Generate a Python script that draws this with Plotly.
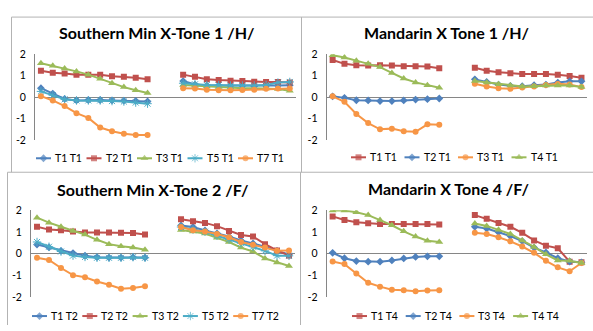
import plotly.graph_objects as go

W, H = 593, 331

BLUE = "#4F81BD"
RED = "#C0504D"
GREEN = "#9BBB59"
AQUA = "#4BACC6"
ORANGE = "#F79646"
AXIS_GREY = "#868686"
FRAME_GREY = "#B3B3B3"
FONT = "Lato"

# Ten time points before the gap, two empty slots, ten time points after
n_pts = 10
n_gap = 2

# Southern Min X-Tone 1 /H/
smh_T1 = [0.42, 0.17, -0.08, -0.15, -0.13, -0.13, -0.15, -0.16, -0.17, -0.20,
          0.75, 0.59, 0.54, 0.54, 0.53, 0.53, 0.51, 0.53, 0.54, 0.56]
smh_T2 = [1.23, 1.14, 1.10, 1.05, 1.05, 1.04, 0.98, 0.95, 0.90, 0.83,
          1.05, 0.95, 0.84, 0.80, 0.77, 0.75, 0.72, 0.71, 0.71, 0.69]
smh_T3 = [1.58, 1.46, 1.34, 1.20, 1.05, 0.86, 0.65, 0.47, 0.32, 0.20,
          0.57, 0.54, 0.50, 0.47, 0.44, 0.42, 0.42, 0.41, 0.38, 0.30]
smh_T5 = [0.27, 0.09, -0.10, -0.15, -0.15, -0.15, -0.18, -0.20, -0.25, -0.30,
          0.65, 0.60, 0.57, 0.56, 0.54, 0.54, 0.54, 0.57, 0.68, 0.71]
smh_T7 = [0.05, -0.15, -0.41, -0.74, -0.96, -1.41, -1.58, -1.70, -1.76, -1.76,
          0.42, 0.41, 0.35, 0.32, 0.32, 0.33, 0.35, 0.39, 0.41, 0.41]

# Mandarin X Tone 1 /H/
mh_T1 = [1.73, 1.55, 1.49, 1.47, 1.49, 1.47, 1.44, 1.44, 1.43, 1.35,
         1.37, 1.23, 1.16, 1.11, 1.08, 1.08, 1.08, 1.04, 0.99, 0.90]
mh_T2 = [0.04, -0.03, -0.14, -0.15, -0.18, -0.18, -0.15, -0.11, -0.09, -0.06,
         0.83, 0.71, 0.59, 0.53, 0.51, 0.56, 0.59, 0.68, 0.74, 0.74]
mh_T3 = [0.04, -0.21, -0.78, -1.20, -1.49, -1.46, -1.58, -1.61, -1.26, -1.28,
         0.63, 0.50, 0.42, 0.39, 0.45, 0.50, 0.57, 0.62, 0.59, 0.47]
mh_T4 = [1.95, 1.85, 1.70, 1.55, 1.40, 1.13, 0.87, 0.69, 0.56, 0.44,
         0.75, 0.69, 0.60, 0.54, 0.50, 0.51, 0.54, 0.54, 0.54, 0.48]

# Southern Min X-Tone 2 /F/
smf_T1 = [0.42, 0.29, 0.13, 0.03, -0.09, -0.16, -0.18, -0.18, -0.16, -0.18,
          1.30, 1.23, 1.07, 0.93, 0.79, 0.61, 0.47, 0.32, 0.13, -0.04]
smf_T2 = [1.24, 1.11, 1.08, 1.02, 0.98, 0.98, 0.98, 0.96, 0.95, 0.89,
          1.59, 1.50, 1.42, 1.27, 1.05, 0.86, 0.79, 0.44, 0.15, -0.09]
smf_T3 = [1.66, 1.43, 1.24, 1.05, 0.88, 0.64, 0.44, 0.34, 0.28, 0.18,
          1.09, 1.02, 0.93, 0.73, 0.54, 0.28, 0.10, -0.22, -0.41, -0.57]
smf_T5 = [0.54, 0.32, 0.10, -0.09, -0.15, -0.19, -0.19, -0.19, -0.16, -0.19,
          1.23, 1.12, 1.01, 0.83, 0.66, 0.48, 0.32, 0.13, -0.09, -0.10]
smf_T7 = [-0.19, -0.29, -0.66, -0.99, -1.09, -1.28, -1.43, -1.62, -1.58, -1.50,
          1.23, 1.08, 1.02, 0.91, 0.76, 0.54, 0.41, 0.28, 0.13, 0.15]

# Mandarin X Tone 4 /F/
mf_T1 = [1.72, 1.55, 1.45, 1.40, 1.37, 1.37, 1.37, 1.37, 1.37, 1.34,
         1.78, 1.61, 1.42, 1.24, 0.96, 0.61, 0.37, 0.25, -0.37, -0.39]
mf_T2 = [0.04, -0.21, -0.34, -0.37, -0.37, -0.31, -0.22, -0.15, -0.12, -0.12,
         1.24, 1.16, 0.99, 0.81, 0.58, 0.28, 0.06, -0.21, -0.36, -0.40]
mf_T3 = [-0.36, -0.48, -0.91, -1.34, -1.52, -1.66, -1.69, -1.73, -1.70, -1.69,
         0.96, 0.91, 0.76, 0.57, 0.33, 0.04, -0.33, -0.63, -0.81, -0.43]
mf_T4 = [1.99, 1.99, 1.91, 1.78, 1.55, 1.31, 1.03, 0.79, 0.60, 0.54,
         1.39, 1.28, 1.10, 0.91, 0.61, 0.31, -0.03, -0.31, -0.33, -0.43]

y_ticks = [-2, -1, 0, 1, 2]
y_tick_text = ["-2", "-1", "0", "1", "2"]

# Marker style per series colour (Excel default marker cycle)
STYLE = {
    BLUE: dict(symbol="diamond", size=6, line=dict(width=0)),
    RED: dict(symbol="square", size=6, line=dict(width=0)),
    GREEN: dict(symbol="triangle-up", size=7, line=dict(width=0)),
    AQUA: dict(symbol="asterisk-open", size=7, line=dict(width=1, color=AQUA)),
    ORANGE: dict(symbol="circle", size=6, line=dict(width=0)),
}

# title, series, plot box in px (x0, x1, y_top, y_bottom), title centre, legend start/pitch/y
panels = [
    ("Southern Min X-Tone 1 /H/",
     [("T1 T1", smh_T1, BLUE), ("T2 T1", smh_T2, RED), ("T3 T1", smh_T3, GREEN),
      ("T5 T1", smh_T5, AQUA), ("T7 T1", smh_T7, ORANGE)],
     (35, 295.7, 50, 139.3), (156, 28), (36, 50.5, 158)),
    ("Mandarin X Tone 1 /H/",
     [("T1 T1", mh_T1, RED), ("T2 T1", mh_T2, BLUE), ("T3 T1", mh_T3, ORANGE),
      ("T4 T1", mh_T4, GREEN)],
     (326.7, 587.4, 50, 139.3), (446.5, 28), (351, 53.5, 157)),
    ("Southern Min X-Tone 2 /F/",
     [("T1 T2", smf_T1, BLUE), ("T2 T2", smf_T2, RED), ("T3 T2", smf_T3, GREEN),
      ("T5 T2", smf_T5, AQUA), ("T7 T2", smf_T7, ORANGE)],
     (31, 295, 212, 302), (152, 190), (32, 50.3, 321.7)),
    ("Mandarin X Tone 4 /F/",
     [("T1 T4", mf_T1, RED), ("T2 T4", mf_T2, BLUE), ("T3 T4", mf_T3, ORANGE),
      ("T4 T4", mf_T4, GREEN)],
     (326.7, 587.4, 212, 302), (448, 189), (352, 53.7, 321.7)),
]


def px_x(x):
    return x / W


def px_y(y):
    return 1 - y / H


n_cats = 2 * n_pts + n_gap
x_cats = list(range(n_cats))


def with_gap(vals):
    return vals[:n_pts] + [None] * n_gap + vals[n_pts:]


fig = go.Figure()
layout = dict(
    width=W, height=H, margin=dict(l=0, r=0, t=0, b=0),
    paper_bgcolor="white", plot_bgcolor="rgba(0,0,0,0)",
    showlegend=False, font=dict(family=FONT, color="#000000"),
)
annotations = []
shapes = []

for i, (title, series, box, tpos, leg) in enumerate(panels, start=1):
    xa, ya = f"x{i}", f"y{i}"
    x0, x1, yt, yb = box
    layout[f"xaxis{i}"] = dict(
        domain=[px_x(x0), px_x(x1)], range=[-0.5, n_cats - 0.5],
        visible=False, anchor=ya,
    )
    layout[f"yaxis{i}"] = dict(
        domain=[px_y(yb), px_y(yt)], range=[-2, 2], anchor=xa,
        tickvals=y_ticks, ticktext=y_tick_text, ticks="",
        ticklabelstandoff=6,
        tickfont=dict(family=FONT, size=10.5, color="#000000"),
        showgrid=False, showline=True, linecolor=AXIS_GREY, linewidth=1,
        zeroline=True, zerolinecolor=AXIS_GREY, zerolinewidth=1,
    )
    for name, vals, color in series:
        fig.add_trace(go.Scatter(
            x=x_cats, y=with_gap(vals), mode="lines+markers", name=name,
            line=dict(color=color, width=2), marker=dict(color=color, **STYLE[color]),
            connectgaps=False, xaxis=xa, yaxis=ya, showlegend=False,
        ))
    annotations.append(dict(
        text=f"<b>{title}</b>", x=px_x(tpos[0]), y=px_y(tpos[1]),
        xref="paper", yref="paper", xanchor="center", yanchor="middle",
        showarrow=False, font=dict(family=FONT, size=16, color="#000000"),
    ))
    # legend row: short line with centred marker, followed by the series name
    lx, pitch, ly = leg
    for k, (name, vals, color) in enumerate(series):
        sx = lx + k * pitch
        fig.add_trace(go.Scatter(
            x=[sx, sx + 7.5, sx + 15], y=[ly, ly, ly], mode="lines+markers",
            line=dict(color=color, width=2),
            marker=dict(color=color, symbol=STYLE[color]["symbol"],
                        size=[0, STYLE[color]["size"], 0], line=STYLE[color]["line"]),
            xaxis="x5", yaxis="y5", showlegend=False, hoverinfo="skip",
        ))
        annotations.append(dict(
            text=name, x=px_x(sx + 17), y=px_y(ly), xref="paper", yref="paper",
            xanchor="left", yanchor="middle", showarrow=False,
            font=dict(family=FONT, size=10.5, color="#000000"),
        ))

layout["xaxis5"] = dict(domain=[0, 1], range=[0, W], visible=False, anchor="y5")
layout["yaxis5"] = dict(domain=[0, 1], range=[H, 0], visible=False, anchor="x5")

# chart-area frames
frame_lines = [
    (11.5, 11.5, W, 11.5), (11.5, 11.5, 11.5, 172.5), (301.5, 11.5, 301.5, 172.5),
    (7.5, 172.5, W, 172.5), (7.5, 172.5, 7.5, H), (300.5, 172.5, 300.5, H),
]
for ax0, ay0, ax1, ay1 in frame_lines:
    shapes.append(dict(type="line", xref="paper", yref="paper",
                       x0=px_x(ax0), y0=px_y(ay0), x1=px_x(ax1), y1=px_y(ay1),
                       line=dict(color=FRAME_GREY, width=1)))

layout["annotations"] = annotations
layout["shapes"] = shapes
fig.update_layout(**layout)
fig.write_html("out.html")
